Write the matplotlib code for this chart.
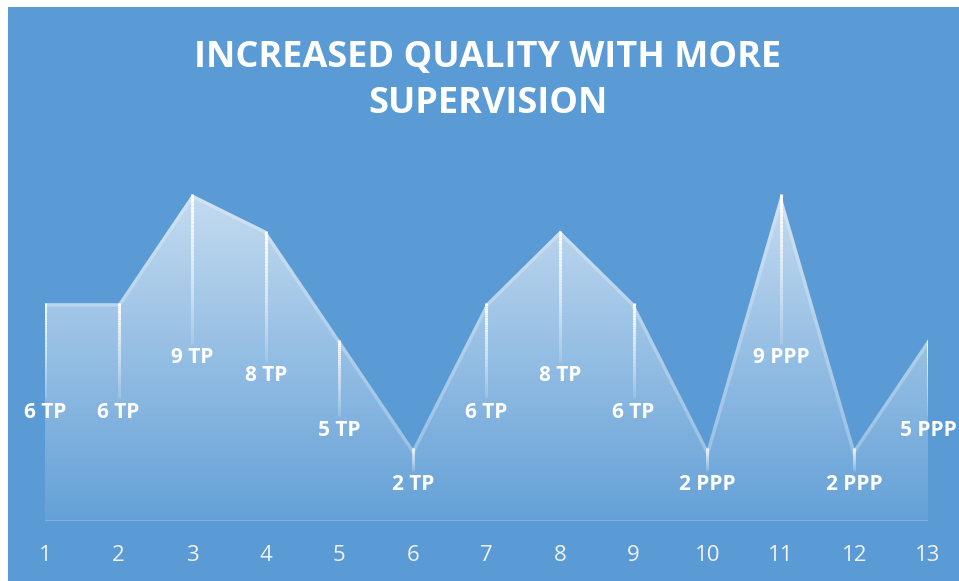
import numpy as np
import matplotlib
matplotlib.use("Agg")
import matplotlib.pyplot as plt
from matplotlib.collections import LineCollection
from matplotlib.patches import Rectangle

# data
steps = list(range(1, 14))
quality = [6, 6, 9, 8, 5, 2, 6, 8, 6, 2, 9, 2, 5]
labels = ["6 TP", "6 TP", "9 TP", "8 TP", "5 TP", "2 TP", "6 TP", "8 TP", "6 TP",
          "2 PPP", "9 PPP", "2 PPP", "5 PPP"]
title = "INCREASED QUALITY WITH MORE\nSUPERVISION"

bg = "#5B9BD5"
W, H = 959, 581

fig = plt.figure(figsize=(W / 100, H / 100), dpi=100)
fig.patch.set_facecolor("white")
# blue chart area, leaving a thin white margin top/left like the screenshot
fig.patches.append(Rectangle((8 / W, 0), 1 - 8 / W, 1 - 7 / H, transform=fig.transFigure,
                             facecolor=bg, edgecolor="none", zorder=-5))

ax = fig.add_axes([45 / W, 60 / H, 883 / W, 363 / H])
ax.set_zorder(1)
ax.patch.set_alpha(0)
for s in ax.spines.values():
    s.set_visible(False)

x = np.array(steps, dtype=float)
y = np.array(quality, dtype=float)

# gradient area fill (white, fading towards the bottom)
poly = ax.fill_between(x, 0, y, facecolor="none", edgecolor="none")
grad = np.zeros((200, 2, 4))
grad[..., :3] = 1.0
grad[..., 3] = np.linspace(0.06, 0.66, 200)[:, None]
img = ax.imshow(grad, extent=[1, 13, 0, 9.3], origin="lower", aspect="auto",
                interpolation="bilinear", zorder=1)
img.set_clip_path(poly.get_paths()[0], transform=ax.transData)
ax.set_xlim(1, 13)
ax.set_ylim(0, 10)

# soft lighter edge just inside the top of the area
edge = ax.plot(x, y, color="white", alpha=0.25, lw=5, zorder=2, solid_joinstyle="miter")[0]
edge.set_clip_path(poly.get_paths()[0], transform=ax.transData)

# baseline
ax.plot([1, 13], [0, 0], color="white", alpha=0.2, lw=1.5, zorder=2)

# fading drop lines and data labels
for xi, yi, lab in zip(x, y, labels):
    end = yi / 2 + 0.38
    n = 40
    ys = np.linspace(yi, end, n + 1)
    segs = [[(xi, ys[k]), (xi, ys[k + 1])] for k in range(n)]
    cols = [(1, 1, 1, al) for al in np.linspace(1.0, 0.15, n)]
    ax.add_collection(LineCollection(segs, colors=cols, linewidths=2.2, zorder=3))
    ax.text(xi, yi / 2, lab, ha="center", va="center", color="white",
            fontsize=15, fontweight="bold", family="Open Sans", zorder=4, clip_on=False)

ax.set_xticks(steps)
ax.set_xticklabels([str(s) for s in steps], fontsize=16, color="#F2F2F2", family="Open Sans")
ax.tick_params(axis="x", length=0, pad=17)
ax.set_yticks([])

fig.text(488 / W, 1 - 81 / H, title, ha="center", va="center", color="white",
         fontsize=26, fontweight="bold", family="Open Sans", linespacing=1.4)

fig.savefig("out.png", dpi=100, facecolor=fig.get_facecolor())
